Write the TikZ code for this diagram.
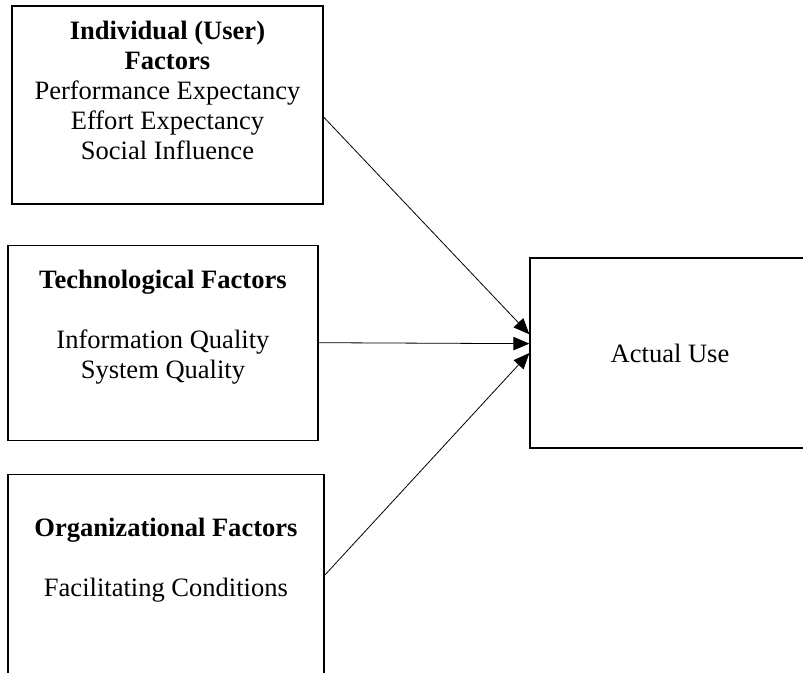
\documentclass[tikz,border=0pt]{standalone}
\usepackage{fontspec}
\setmainfont{Liberation Serif}
\usetikzlibrary{arrows.meta,positioning}
\newcommand{\padbox}[1]{\rule[-#1]{0pt}{0pt}}

\begin{document}
\begin{tikzpicture}[->,>={Triangle[length=12pt,width=10pt]},auto,
                    node distance=30pt,line width=0.6pt]
  \tikzstyle{factor}=[draw=black,line width=0.9pt,align=center,
                      font=\fontsize{19.9}{22.5}\selectfont,text=black]

  \useasboundingbox (0,0) rectangle (602.25pt,-504.75pt);

  \node[factor,minimum width=233.25pt,minimum height=148.5pt] (ind) at (125.6pt,-78.75pt)
      {\textbf{Individual (User)}\\ \textbf{Factors}\\ Performance Expectancy\\
       Effort Expectancy\\ Social Influence\padbox{22pt}};
  \node[factor,minimum width=232.5pt,minimum height=146.25pt] (tech)
      [below=30pt of ind,xshift=-3.4pt]
      {\textbf{Technological Factors}\\[22.5pt] Information Quality\\ System Quality\padbox{27.5pt}};
  \node[factor,minimum width=237pt,minimum height=157.5pt] (org)
      [below=24.75pt of tech,xshift=2.25pt]
      {\textbf{Organizational Factors}\\[22.5pt] Facilitating Conditions\padbox{33.5pt}};
  \node[factor,minimum width=230pt,minimum height=142.5pt] (use) at (512.5pt,-264.75pt)
      {Actual Use\rule{20pt}{0pt}};

  \path ([yshift=-9pt]ind.east) edge ([yshift=14pt]use.west)
        (tech.east)            edge ([yshift=7pt]use.west)
        ([yshift=3pt]org.east)   edge (use.west);
\end{tikzpicture}
\end{document}
